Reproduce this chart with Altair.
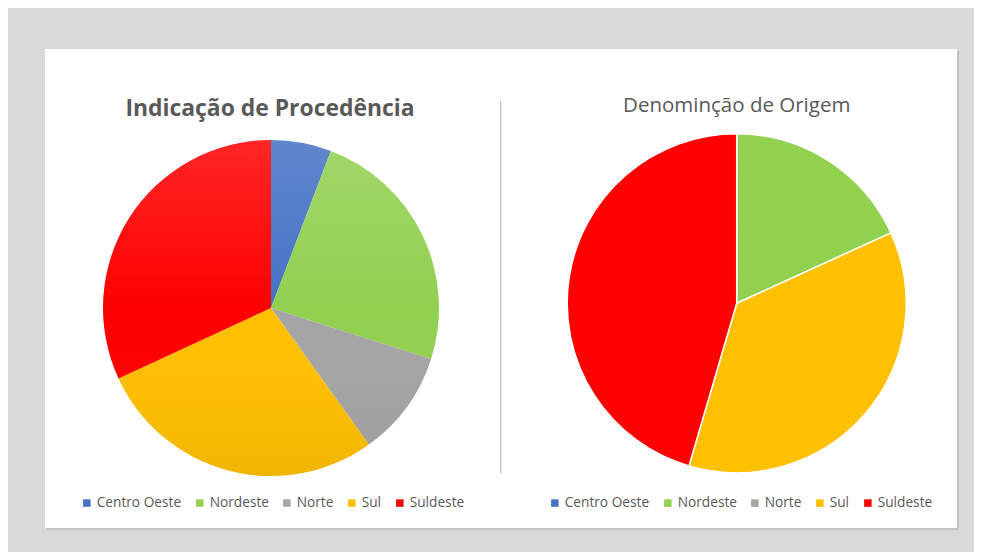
import altair as alt
import pandas as pd

# ---- data ----
categories = ["Centro Oeste", "Nordeste", "Norte", "Sul", "Suldeste"]
ip_values = [5.8, 24.1, 10.2, 28.0, 31.9]      # Indicação de Procedência (share, %)
do_values = [0, 2, 0, 4, 5]                    # Denominação de Origem (count)
colors = ["#4472C4", "#92D050", "#A5A5A5", "#FFC000", "#FF0000"]
title_left = "Indicação de Procedência"
title_right = "Denominção de Origem"

W, H = 966, 544
TXT = "#595959"

ip_df = pd.DataFrame({"regiao": categories, "valor": ip_values, "ordem": range(len(categories))})
do_df = pd.DataFrame({"regiao": categories, "valor": do_values, "ordem": range(len(categories))})
one = alt.InlineData(values=[{}])

color_scale = alt.Scale(domain=categories, range=colors)

def legend(x, y):
    return alt.Legend(
        title=None, orient="none", direction="horizontal", legendX=x, legendY=y,
        symbolType="square", symbolSize=56, symbolStrokeWidth=0,
        labelFont="Open Sans", labelFontSize=13.7, labelColor=TXT,
        labelOffset=3, columnPadding=11, columns=5, padding=0,
    )

shadow = alt.Chart(one).mark_rect(color="#b5b5b5", opacity=0.6).encode(
    x=alt.value(39), x2=alt.value(951), y=alt.value(43), y2=alt.value(522))
card = alt.Chart(one).mark_rect(color="white").encode(
    x=alt.value(37), x2=alt.value(949), y=alt.value(41), y2=alt.value(520))
divider = alt.Chart(one).mark_rule(color="#bfbfbf", strokeWidth=1.2).encode(
    x=alt.value(492.7), y=alt.value(93), y2=alt.value(465))

t_left = alt.Chart(one).mark_text(
    text=title_left, font="Open Sans", fontWeight="bold", fontSize=22.9,
    color=TXT, align="center", baseline="alphabetic").encode(
    x=alt.value(262), y=alt.value(108))
t_right = alt.Chart(one).mark_text(
    text=title_right, font="Open Sans", fontSize=20.5,
    color=TXT, align="center", baseline="alphabetic").encode(
    x=alt.value(728.7), y=alt.value(103.7))

pie_left = alt.Chart(ip_df).mark_arc(radius=168, strokeWidth=0).encode(
    theta=alt.Theta("valor:Q", stack=True),
    color=alt.Color("regiao:N", scale=color_scale, legend=legend(72, 488)),
    order=alt.Order("ordem:Q"),
    x=alt.value(263), y=alt.value(300),
)

shade = alt.Chart(one).mark_arc(
    radius=168, theta=0, theta2=6.2832,
    fill=alt.LinearGradient(
        gradient="linear", x1=0, x2=0, y1=0, y2=1,
        stops=[alt.GradientStop(color="rgba(255,255,255,0.15)", offset=0),
               alt.GradientStop(color="rgba(255,255,255,0.0)", offset=0.5),
               alt.GradientStop(color="rgba(0,0,0,0.06)", offset=1)]),
).encode(x=alt.value(263), y=alt.value(300))

pie_right = alt.Chart(do_df).transform_filter("datum.valor > 0").mark_arc(
    radius=169.5, stroke="white", strokeWidth=1.5).encode(
    theta=alt.Theta("valor:Q", stack=True),
    color=alt.Color("regiao:N", scale=color_scale, legend=legend(540, 488)),
    order=alt.Order("ordem:Q"),
    x=alt.value(728.7), y=alt.value(295.3),
)

chart = alt.layer(
    shadow, card, divider, t_left, t_right, pie_left, shade, pie_right
).resolve_scale(color="independent", theta="independent").properties(
    width=W, height=H, padding=0,
    autosize=alt.AutoSizeParams(type="none"),
    background="#d9d9d9",
).configure_view(stroke=None)

chart.save("out.html", embed_options={"renderer": "svg", "actions": False})
